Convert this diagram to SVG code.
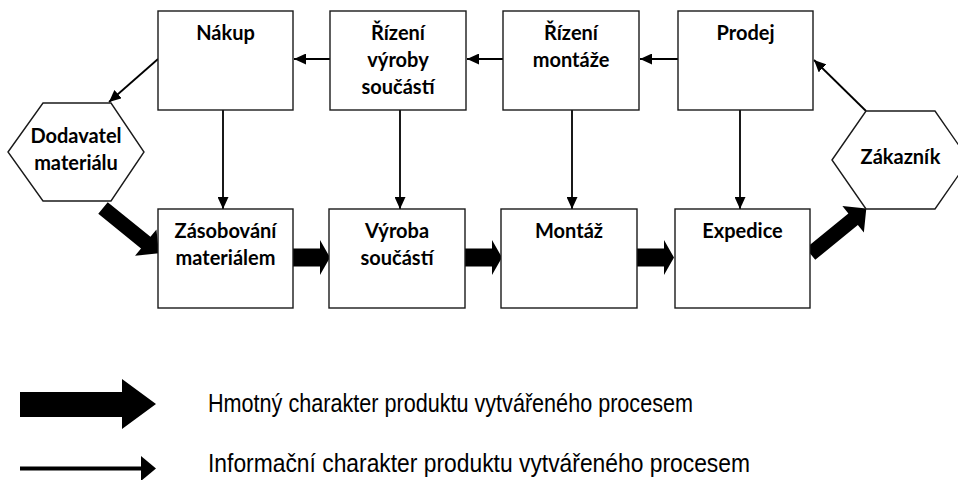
<svg xmlns="http://www.w3.org/2000/svg" xmlns:xlink="http://www.w3.org/1999/xlink" width="958" height="480" viewBox="0 0 958 480">
  <style>
    .box { fill: #fff; stroke: #1a1a1a; stroke-width: 1.4; }
    .lbl { font-family: Lato, "Liberation Sans", sans-serif; font-weight: bold; font-size: 20px; fill: #000; text-anchor: middle; }
    .info { stroke: #000; stroke-width: 1.8; fill: none; marker-end: url(#tip); }
    .fat { fill: #000; }
    .legend { font-family: "Liberation Sans", Arial, sans-serif; font-size: 25px; fill: #000; }
  </style>
  <defs>
    <marker id="tip" markerUnits="userSpaceOnUse" markerWidth="13" markerHeight="11" refX="12" refY="5.5" orient="auto">
      <path d="M0,0 L12,5.5 L0,11 Z" fill="#000"/>
    </marker>
    <!-- short block arrow between neighbouring process boxes -->
    <path id="fatH" d="M0,-9 H27 V-17.5 L37,0 L27,17.5 V9 H0 Z"/>
    <!-- longer block arrow for the diagonal supplier / customer links -->
    <path id="fatD" d="M0,-7.5 H55 V-17 L72,0 L55,17 V7.5 H0 Z"/>
  </defs>

  <rect width="958" height="480" fill="#fff"/>

  <!-- connectors -->
  <g id="connectors">
    <!-- information flow (thin) -->
    <line class="info" x1="330" y1="59" x2="294" y2="59"/>
    <line class="info" x1="503" y1="59" x2="467" y2="59"/>
    <line class="info" x1="678" y1="59" x2="640" y2="59"/>
    <line class="info" x1="158" y1="59" x2="109" y2="102"/>
    <line class="info" x1="223" y1="110" x2="223" y2="209"/>
    <line class="info" x1="400" y1="110" x2="400" y2="209"/>
    <line class="info" x1="572" y1="110" x2="572" y2="209"/>
    <line class="info" x1="740" y1="110" x2="740" y2="209"/>
    <line class="info" x1="866" y1="111" x2="814" y2="60"/>
    <!-- material flow (thick) -->
    <use xlink:href="#fatD" class="fat" transform="translate(103,208) rotate(39)"/>
    <use xlink:href="#fatH" class="fat" transform="translate(293,257.5)"/>
    <use xlink:href="#fatH" class="fat" transform="translate(465,257.5)"/>
    <use xlink:href="#fatH" class="fat" transform="translate(637,257.5)"/>
    <use xlink:href="#fatD" class="fat" transform="translate(810.5,254) rotate(-39.2)"/>
  </g>

  <!-- top row: control -->
  <g id="nakup">
    <rect class="box" x="158" y="11" width="135" height="99"/>
    <text class="lbl" x="225.5" y="40">Nákup</text>
  </g>
  <g id="rizeni-vyroby">
    <rect class="box" x="330" y="11" width="136" height="99"/>
    <text class="lbl" x="398" y="40">Řízení</text>
    <text class="lbl" x="398" y="67">výroby</text>
    <text class="lbl" x="398" y="94">součástí</text>
  </g>
  <g id="rizeni-montaze">
    <rect class="box" x="503" y="11" width="136" height="99"/>
    <text class="lbl" x="571" y="40">Řízení</text>
    <text class="lbl" x="571" y="67">montáže</text>
  </g>
  <g id="prodej">
    <rect class="box" x="678" y="11" width="135" height="99"/>
    <text class="lbl" x="745.5" y="40">Prodej</text>
  </g>

  <!-- bottom row: material processes -->
  <g id="zasobovani">
    <rect class="box" x="158" y="209" width="135" height="99"/>
    <text class="lbl" x="225.5" y="238">Zásobování</text>
    <text class="lbl" x="225.5" y="265">materiálem</text>
  </g>
  <g id="vyroba">
    <rect class="box" x="329" y="209" width="136" height="99"/>
    <text class="lbl" x="397" y="238">Výroba</text>
    <text class="lbl" x="397" y="265">součástí</text>
  </g>
  <g id="montaz">
    <rect class="box" x="501" y="209" width="136" height="99"/>
    <text class="lbl" x="569" y="238">Montáž</text>
  </g>
  <g id="expedice">
    <rect class="box" x="675" y="209" width="135" height="99"/>
    <text class="lbl" x="742.5" y="238">Expedice</text>
  </g>

  <!-- external parties -->
  <g id="dodavatel">
    <polygon class="box" points="8,152 43,103 111,103 144,152 111,201 43,201"/>
    <text class="lbl" x="76" y="143">Dodavatel</text>
    <text class="lbl" x="76" y="170">materiálu</text>
  </g>
  <g id="zakaznik">
    <polygon class="box" points="832,160 866,111 935,111 969,160 935,209 866,209"/>
    <text class="lbl" x="900.5" y="164">Zákazník</text>
  </g>

  <!-- legend -->
  <g id="legend">
    <path class="fat" d="M20,392 H122 V379 L156,404 L122,429 V417 H20 Z"/>
    <line x1="20" y1="468.5" x2="142" y2="468.5" stroke="#000" stroke-width="4"/>
    <path class="fat" d="M141,456 L156,468.5 L141,481 Z"/>
    <text class="legend" x="208" y="412" textLength="485" lengthAdjust="spacingAndGlyphs">Hmotný charakter produktu vytvářeného procesem</text>
    <text class="legend" x="208" y="472" textLength="542" lengthAdjust="spacingAndGlyphs">Informační charakter produktu vytvářeného procesem</text>
  </g>
</svg>
